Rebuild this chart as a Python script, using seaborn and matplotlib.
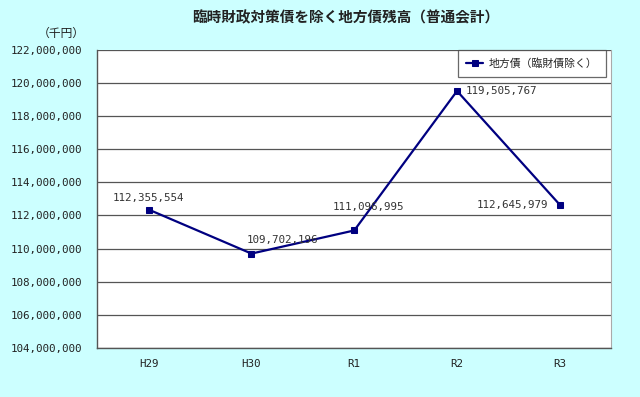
import numpy as np
import pandas as pd
import matplotlib
matplotlib.use("Agg")
import matplotlib.pyplot as plt
import matplotlib.ticker as mticker
import seaborn as sns

# data (千円)
years = ["H29", "H30", "R1", "R2", "R3"]
balance = [112355554, 109702196, 111096995, 119505767, 112645979]
series_name = "地方債（臨財債除く）"

df = pd.DataFrame({"year": years, "value": balance})
df["pos"] = np.arange(len(years))

sns.set_style("white")
plt.rcParams['font.family'] = ['Noto Sans CJK JP', 'DejaVu Sans']

bg = "#ccffff"
navy = "#000080"
mono = ['DejaVu Sans Mono']

fig = plt.figure(figsize=(6.4, 3.97), dpi=100, facecolor=bg)
ax = fig.add_axes([0.152, 0.123, 0.803, 0.752])
ax.set_facecolor("white")

sns.lineplot(data=df, x="pos", y="value", ax=ax, color=navy, lw=1.6,
             marker="s", markersize=4.5, markeredgecolor=navy, label=series_name)

ax.set_xlim(-0.5, len(years) - 0.5)
ax.set_ylim(104000000, 122000000)
ax.yaxis.set_major_locator(mticker.MultipleLocator(2000000))
ax.yaxis.set_major_formatter(mticker.FuncFormatter(lambda v, p: f"{int(v):,}"))
ax.set_xticks(df["pos"])
ax.set_xticklabels(years)
ax.set_xticks(np.arange(len(years) - 1) + 0.5, minor=True)
ax.tick_params(axis="x", which="major", length=0, pad=8, labelsize=7.8, colors="#222222")
ax.tick_params(axis="x", which="minor", length=3, direction="in", color="#555555")
ax.tick_params(axis="y", length=0, pad=11, labelsize=7.8, colors="#222222")
for lab in ax.get_xticklabels() + ax.get_yticklabels():
    lab.set_family(mono)
ax.grid(axis="y", color="#555555", lw=0.9)
ax.set_axisbelow(True)
ax.set_xlabel("")
ax.set_ylabel("")

for side in ["left", "bottom"]:
    ax.spines[side].set_color("#555555")
    ax.spines[side].set_linewidth(1)
ax.spines["top"].set_visible(False)
ax.spines["right"].set_color("#aaaaaa")

# data labels
offsets = [(0, 8), (22, 10), (10, 17), (32, 0), (-34, 0)]
for (x, y), (dx, dy) in zip(zip(df["pos"], df["value"]), offsets):
    ax.annotate(f"{y:,}", (x, y), xytext=(dx, dy), textcoords="offset points",
                ha="center", va="center", fontsize=7.8, color="#333333", family=mono)

leg = ax.legend(loc="upper right", bbox_to_anchor=(0.989, 1.0), fontsize=7.8,
                frameon=True, fancybox=False, edgecolor="#444444",
                borderpad=0.75, handlelength=1.6, handletextpad=0.5, borderaxespad=0)
leg.get_frame().set_linewidth(0.9)

fig.text(0.54, 0.955, "臨時財政対策債を除く地方債残高（普通会計）",
         ha="center", va="center", fontsize=10.5, fontweight="bold", color="#222222")
fig.text(0.095, 0.915, "（千円）", ha="center", va="center", fontsize=8.5, color="#222222")

fig.savefig("out.png", dpi=100, facecolor=bg)
